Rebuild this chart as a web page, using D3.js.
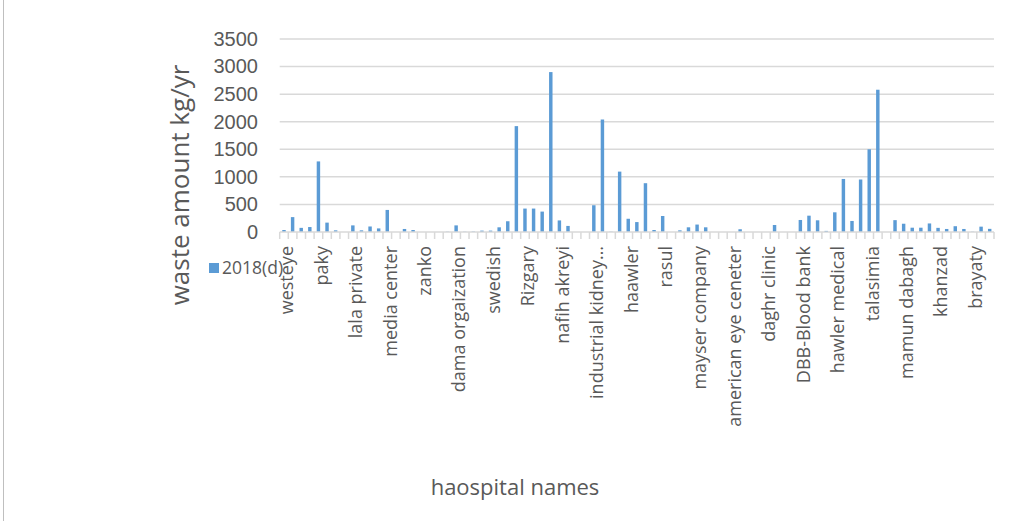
<!DOCTYPE html>
<html>
<head>
<meta charset="utf-8">
<script src="https://cdn.jsdelivr.net/npm/d3@7"></script>
<style>
  html, body { margin: 0; padding: 0; background: #fff; }
  svg { display: block; font-family: "Open Sans", "Liberation Sans", sans-serif; }
</style>
</head>
<body>
<svg id="chart" width="1010" height="521"></svg>
<script>
// Annual waste per hospital (kg/yr), one value per hospital in axis order
const wasteKg = [
  36, 270, 75, 90, 1280, 170, 30, 0, 120, 30, 100, 65,
  400, 0, 55, 36, 0, 0, 0, 5, 120, 5, 8, 25,
  25, 85, 195, 1920, 425, 425, 370, 2900, 210, 110, 0, 0,
  485, 2040, 5, 1095, 240, 180, 885, 36, 290, 0, 30, 85,
  135, 85, 0, 0, 0, 50, 0, 0, 0, 127, 0, 0,
  218, 296, 212, 20, 357, 962, 200, 952, 1500, 2580, 0, 215,
  150, 78, 78, 155, 75, 55, 105, 55, 5, 97, 57
];

// Hospital names shown on the axis (every fourth hospital)
const tickLabels = [
  "westeye", "paky", "lala private", "media center", "zanko",
  "dama orgaization", "swedish", "Rizgary", "nafih akreyi",
  "industrial kidney\u2026", "haawler", "rasul", "mayser company",
  "american eye ceneter", "daghr clinic", "DBB-Blood bank",
  "hawler medical", "talasimia", "mamun dabagh", "khanzad", "brayaty"
];
const labelStep = 4;

const yTicks = [0, 500, 1000, 1500, 2000, 2500, 3000, 3500];
const seriesName = "2018(d)";
const yTitle = "waste amount kg/yr";
const xTitle = "haospital names";

const svg = d3.select("#chart");
const textColor = "#595959";
const gridColor = "#d9d9d9";
const barColor = "#5b9bd5";

const plot = { left: 279.7, right: 994, top: 39, bottom: 232 };

// outer chart frame edge on the left
svg.append("line")
  .attr("x1", 3.5).attr("x2", 3.5).attr("y1", 0).attr("y2", 521)
  .attr("stroke", "#bfbfbf").attr("stroke-width", 1);

const x = d3.scaleBand()
  .domain(d3.range(wasteKg.length))
  .range([plot.left, plot.right])
  .paddingInner(0.6)
  .paddingOuter(0.3);

const y = d3.scaleLinear()
  .domain([0, 3500])
  .range([plot.bottom, plot.top]);

// horizontal gridlines
svg.append("g")
  .selectAll("line")
  .data(yTicks.filter(d => d > 0))
  .join("line")
  .attr("x1", plot.left).attr("x2", plot.right)
  .attr("y1", d => y(d)).attr("y2", d => y(d))
  .attr("stroke", gridColor).attr("stroke-width", 1.5);

// y axis labels
const yAxis = d3.axisLeft(y).tickValues(yTicks).tickFormat(d3.format("d")).tickSize(0).tickPadding(0);
const gy = svg.append("g")
  .attr("transform", `translate(258,0)`)
  .call(yAxis);
gy.select(".domain").remove();
gy.selectAll("text")
  .attr("fill", textColor)
  .style("font-size", "20px");

// bars
svg.append("g")
  .selectAll("rect")
  .data(wasteKg)
  .join("rect")
  .attr("x", (d, i) => x(i))
  .attr("width", x.bandwidth())
  .attr("y", d => y(d))
  .attr("height", d => y(0) - y(d))
  .attr("fill", barColor);

// category axis: baseline with boundary ticks
const boundaries = d3.range(wasteKg.length + 1).map(i => plot.left + i * (plot.right - plot.left) / wasteKg.length);
const gx = svg.append("g");
gx.append("line")
  .attr("x1", plot.left).attr("x2", plot.right)
  .attr("y1", plot.bottom).attr("y2", plot.bottom)
  .attr("stroke", gridColor).attr("stroke-width", 1.5);
gx.selectAll("line.tick")
  .data(boundaries)
  .join("line")
  .attr("class", "tick")
  .attr("x1", d => d).attr("x2", d => d)
  .attr("y1", plot.bottom).attr("y2", plot.bottom + 7)
  .attr("stroke", gridColor).attr("stroke-width", 1.5);

gx.selectAll("text")
  .data(tickLabels)
  .join("text")
  .attr("transform", (d, k) => {
    const cx = x(k * labelStep) + x.bandwidth() / 2 + 3;
    return `translate(${cx},${plot.bottom + 14}) rotate(-90)`;
  })
  .attr("text-anchor", "end")
  .attr("dy", "0.35em")
  .attr("fill", textColor)
  .style("font-size", "18px")
  .text(d => d);

// axis titles
svg.append("text")
  .attr("transform", `translate(180,185) rotate(-90)`)
  .attr("text-anchor", "middle")
  .attr("dy", "0.35em")
  .attr("fill", textColor)
  .style("font-size", "26px")
  .text(yTitle);

svg.append("text")
  .attr("x", 515).attr("y", 487)
  .attr("text-anchor", "middle")
  .attr("dy", "0.35em")
  .attr("fill", textColor)
  .style("font-size", "22px")
  .text(xTitle);

// legend
const lg = svg.append("g").attr("transform", "translate(209,263)");
lg.append("rect").attr("width", 10).attr("height", 10).attr("fill", barColor);
lg.append("text")
  .attr("x", 13).attr("y", 5).attr("dy", "0.35em")
  .attr("fill", textColor)
  .style("font-size", "17.5px")
  .text(seriesName);
</script>
</body>
</html>
